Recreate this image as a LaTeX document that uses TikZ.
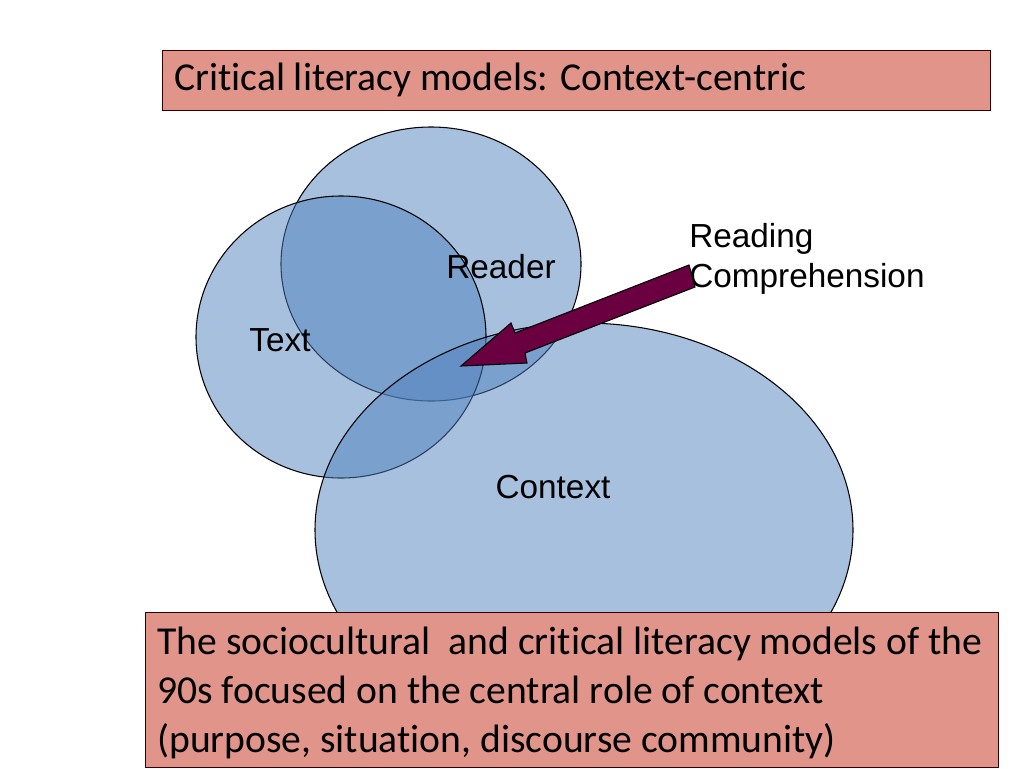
\documentclass[tikz,border=0pt]{standalone}
\usepackage{fontspec}
\setmainfont{Carlito}[Ligatures=NoCommon]
\newfontfamily\arialfont{Liberation Sans}
\definecolor{salmon}{HTML}{E0948A}
\definecolor{circblue}{HTML}{4F81BD}
\definecolor{maroon}{HTML}{6B0040}
\begin{document}
\begin{tikzpicture}[x=0.75pt,y=-0.75pt,
  blob/.style={draw=black, line width=0.8pt, fill=circblue, fill opacity=0.5},
  panel/.style={draw=black!80!red, line width=0.6pt, fill=salmon},
  lbl/.style={font=\arialfont\fontsize{25}{29.5}\selectfont, inner sep=0pt},
  big/.style={font=\fontsize{29.7}{36.5}\selectfont, inner sep=0pt, align=left}]
\useasboundingbox (0,0) rectangle (1024,768);
% circles
\draw[blob] (431,264) ellipse [x radius=150, y radius=137];
\draw[blob] (341,337) ellipse [x radius=145, y radius=141];
\draw[blob] (584,530) ellipse [x radius=269, y radius=207];
% labels
\node[lbl] (reader) at (501,267) {Reader};
\node[lbl] (text) at (280,340) {Text};
\node[lbl] (context) at (553,487) {Context};
\node[lbl, anchor=west, align=left] (rc) at (689,259) {Reading\\Comprehension};
% block arrow
\coordinate (tailT) at (689,265);
\coordinate (tailB) at (695,287);
\coordinate (tip) at (461,366);
\draw[fill=maroon, draw=black, line width=0.8pt, line join=miter]
  (tailT) -- (515,333) -- (511,323) -- (tip) -- (527,363) -- (525,353) -- (tailB) -- cycle;
% title box
\node[panel, minimum width=828*0.75pt, minimum height=60*0.75pt, anchor=north west, inner sep=0pt] (title) at (162,50) {};
\node[big, anchor=west] (titletext) at (174,80) {Critical literacy models: Context-centric};
% bottom box
\node[panel, minimum width=853*0.75pt, minimum height=155*0.75pt, anchor=north west, inner sep=0pt] (bottom) at (145,612) {};
\node[big, anchor=north west, text depth=0pt] (bottomtext) at (157,627) {The sociocultural \ and critical literacy models of the\\90s focused on the central role of context\\(purpose, situation, discourse community)};
\end{tikzpicture}
\end{document}
